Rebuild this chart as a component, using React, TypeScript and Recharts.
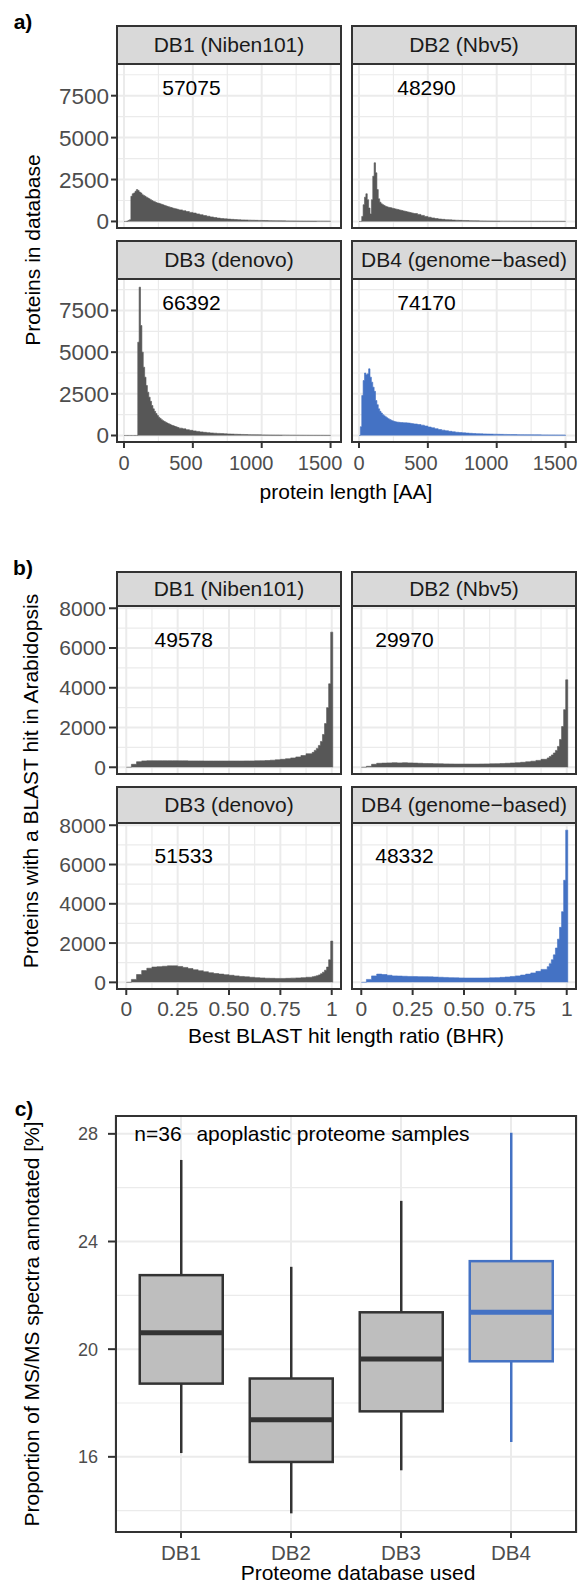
import React from 'react';
import {
  AreaChart,
  Area,
  ComposedChart,
  Bar,
  XAxis,
  YAxis,
  CartesianGrid,
  ReferenceDot,
} from 'recharts';

const FONT = '"Liberation Sans", Arial, Helvetica, sans-serif';
const INK = '#333333';
const GRID = '#ebebeb';
const TICK_TXT = '#4d4d4d';
const GREY_BAR = '#575757';
const BLUE = '#4472c4';

// facet names shared by a) and b)
const facetNames = ['DB1 (Niben101)', 'DB2 (Nbv5)', 'DB3 (denovo)', 'DB4 (genome\u2212based)'];

// ---------- a) protein length ----------
const lenBins = [
  0, 10, 20, 30, 40, 50, 60, 70, 80, 90, 100, 110, 120, 130, 140, 150, 160, 170, 180, 190,
  200, 210, 220, 230, 240, 250, 260, 270, 280, 290, 300, 310, 320, 330, 340, 350, 360, 370, 380, 390,
  400, 425, 450, 475, 500, 525, 550, 575, 600, 625, 650, 675, 700, 725, 750, 775, 800, 825, 850, 875,
  900, 925, 950, 975, 1000, 1025, 1050, 1075, 1100, 1125, 1150, 1175, 1200, 1225, 1250, 1275, 1300,
  1325, 1350, 1375, 1400, 1425, 1450, 1475, 1500,
];
const db1Len = [
  0, 0, 20, 60, 100, 1500, 1650, 1700, 1800, 1900, 1850, 1750, 1700, 1600, 1550, 1500, 1450, 1400, 1350, 1300,
  1250, 1200, 1170, 1130, 1100, 1080, 1050, 1020, 990, 960, 930, 900, 880, 850, 830, 800, 780, 760, 740, 720,
  690, 640, 590, 540, 500, 450, 400, 350, 310, 270, 230, 200, 175, 155, 140, 125, 112, 102, 93, 86,
  79, 73, 67, 62, 57, 52, 48, 44, 41, 38, 35, 33, 31, 29, 27, 25, 23, 22, 21, 20, 19, 18, 17, 16,
];
const db2Len = [
  0, 0, 300, 1000, 1450, 1650, 1300, 800, 450, 1300, 2700, 3500, 2900, 1900, 1350, 1150, 1050, 1000, 950, 900,
  870, 850, 830, 810, 790, 770, 750, 730, 710, 690, 670, 650, 630, 610, 590, 570, 550, 530, 510, 490,
  470, 420, 360, 300, 250, 210, 175, 145, 125, 108, 95, 83, 73, 65, 58, 52, 46, 41, 37, 33,
  30, 27, 25, 23, 21, 19, 18, 17, 16, 15, 14, 13, 12, 12, 11, 11, 10, 10, 9, 9, 8, 8, 8, 7,
];
const db3Len = [
  0, 0, 0, 0, 0, 0, 0, 0, 0, 0, 5600, 8900, 6600, 5000, 4100, 3500, 3000, 2600, 2300, 2050,
  1800, 1600, 1450, 1320, 1200, 1100, 1020, 950, 890, 840, 790, 750, 710, 670, 630, 600, 570, 540, 510, 480,
  440, 400, 350, 310, 275, 245, 215, 190, 170, 152, 138, 125, 113, 102, 92, 84, 76, 69, 63, 57,
  52, 47, 43, 39, 36, 33, 30, 28, 26, 24, 22, 20, 18, 17, 16, 15, 14, 13, 12, 11, 10, 10, 9, 9,
];
const db4Len = [
  0, 530, 2400, 3300, 3750, 3650, 3700, 4000, 3500, 3200, 2900, 2650, 2100, 1850, 1600, 1450, 1350, 1250, 1180, 1120,
  1060, 1010, 960, 920, 880, 850, 830, 810, 800, 790, 780, 775, 770, 765, 760, 755, 745, 735, 720, 705,
  690, 660, 620, 570, 510, 460, 410, 360, 320, 285, 250, 220, 195, 175, 160, 145, 132, 120, 110, 102,
  95, 88, 83, 78, 73, 69, 65, 61, 58, 55, 52, 49, 47, 45, 43, 41, 39, 37, 36, 34, 33, 32, 31, 30,
];
const lenTotals = ['57075', '48290', '66392', '74170'];
const lenTicks = [0, 500, 1000, 1500];
const lenMinor = [250, 750, 1250];
const lenCountTicks = [0, 2500, 5000, 7500];
const lenCountMinor = [1250, 3750, 6250, 8750];
const lenLabelX = [490, 490, 490, 490];
const lenLabelY = 8000;

// ---------- b) best BLAST hit length ratio ----------
const bhrBins = [
  0, 0.025, 0.05, 0.075, 0.1, 0.125, 0.15, 0.175, 0.2, 0.225, 0.25, 0.275, 0.3, 0.325, 0.35, 0.375,
  0.4, 0.425, 0.45, 0.475, 0.5, 0.525, 0.55, 0.575, 0.6, 0.625, 0.65, 0.675, 0.7, 0.725, 0.75, 0.775,
  0.8, 0.825, 0.85, 0.875, 0.905, 0.915, 0.925, 0.935, 0.945, 0.955, 0.965, 0.975, 0.985, 0.995, 1.005,
];
const db1Bhr = [
  0, 150, 280, 320, 330, 330, 330, 330, 330, 330, 325, 325, 320, 320, 320, 315, 315, 315, 315, 315,
  315, 315, 315, 320, 320, 325, 330, 340, 355, 375, 400, 430, 470, 520, 590, 680,
  750, 850, 950, 1100, 1300, 1650, 2200, 3000, 4200, 6800,
];
const db2Bhr = [
  0, 50, 150, 200, 210, 220, 230, 220, 230, 220, 210, 200, 190, 185, 180, 175, 170, 165, 160, 160,
  160, 160, 160, 165, 170, 175, 180, 190, 200, 215, 230, 250, 275, 305, 345, 400,
  470, 540, 620, 720, 850, 1050, 1400, 2050, 2900, 4400,
];
const db3Bhr = [
  0, 150, 400, 600, 720, 780, 800, 820, 840, 840, 810, 760, 700, 640, 590, 540, 490, 450, 420, 390,
  360, 330, 300, 280, 260, 240, 225, 210, 205, 200, 200, 205, 215, 225, 240, 260,
  290, 310, 340, 380, 440, 520, 620, 780, 1150, 2100,
];
const db4Bhr = [
  0, 150, 330, 420, 400, 360, 330, 320, 310, 300, 295, 290, 285, 280, 270, 260, 250, 240, 230, 225,
  220, 220, 220, 220, 225, 230, 240, 255, 275, 300, 330, 370, 420, 480, 560, 660,
  800, 950, 1150, 1400, 1750, 2200, 2800, 3600, 5200, 7750,
];
const bhrTotals = ['49578', '29970', '51533', '48332'];
const bhrTicks = [0, 0.25, 0.5, 0.75, 1];
const bhrTickLabels = ['0', '0.25', '0.50', '0.75', '1'];
const bhrMinor = [0.125, 0.375, 0.625, 0.875];
const bhrCountTicks = [0, 2000, 4000, 6000, 8000];
const bhrCountMinor = [1000, 3000, 5000, 7000];
const bhrLabelX = [0.28, 0.21, 0.28, 0.21];
const bhrLabelY = 6450;

// ---------- c) MS/MS spectra annotated ----------
const boxDbs = ['DB1', 'DB2', 'DB3', 'DB4'];
const boxLow = [16.14, 13.9, 15.5, 16.55];
const boxQ1 = [18.72, 15.81, 17.69, 19.55];
const boxMed = [20.61, 17.38, 19.63, 21.37];
const boxQ3 = [22.75, 18.91, 21.37, 23.27];
const boxHigh = [27.03, 23.06, 25.51, 28.04];
const spectraTicks = [16, 20, 24, 28];
const spectraMinor = [14, 18, 22, 26];
const highlightDb = 'DB4';

// ---------- layout ----------
const COLS = [116, 351];
const PANEL_W = 226;
const A_ROWS = [
  { strip: 25, top: 63, h: 166 },
  { strip: 240, top: 278, h: 165 },
];
const B_ROWS = [
  { strip: 571, top: 605, h: 170 },
  { strip: 786, top: 822, h: 168 },
];

const toSeries = (bins: number[], counts: number[]) =>
  bins.map((x, i) => ({ x, y: counts[i] ?? 0 }));

// grid line positions through the axis scale
const gridAt = (vals: number[], dir: 'x' | 'y') => (props: any) => {
  const axis = dir === 'x' ? props.xAxis : props.yAxis;
  const s = axis && axis.scale;
  const out: number[] = [];
  vals.forEach((v) => {
    const px = typeof s === 'function' ? s(v) : s && s.map ? s.map(v) : undefined;
    if (typeof px === 'number' && Number.isFinite(px)) out.push(px);
  });
  return out;
};

// the length-axis labels in the original sit a little left of their ticks
const LenTick = (props: any) => {
  const { x, y, payload } = props;
  const s = String(payload.value);
  return (
    <text
      x={x - (s.length - 1) * 3.5}
      y={y}
      dy="0.71em"
      textAnchor="middle"
      fill={TICK_TXT}
      fontSize={20}
      fontFamily={FONT}
    >
      {s}
    </text>
  );
};

const Txt = ({ x, y, children, size = 21, rotate = false, color = '#000', weight = 400 }: any) => (
  <div
    style={{
      position: 'absolute',
      left: x,
      top: y,
      transform: `translate(-50%, -50%)${rotate ? ' rotate(-90deg)' : ''}`,
      fontSize: size,
      color,
      fontWeight: weight,
      whiteSpace: 'nowrap',
      lineHeight: 1,
    }}
  >
    {children}
  </div>
);

type FacetProps = {
  data: { x: number; y: number }[];
  left: number;
  row: { strip: number; top: number; h: number };
  label: string;
  total: string;
  annX: number;
  annY: number;
  color: string;
  showX: boolean;
  showY: boolean;
  xDomain: [number, number];
  yDomain: [number, number];
  xTicks: number[];
  xMinor: number[];
  yTicks: number[];
  yMinor: number[];
  xFmt?: (v: number) => string;
  xTick?: any;
  xFont: number;
  yFont: number;
  xTickMargin: number;
  yTickSize: number;
  yTickMargin: number;
};

function Facet(p: FacetProps) {
  const yW = p.showY ? 100 : 0;
  const xH = p.showX ? 40 : 0;
  return (
    <>
      <div
        style={{
          position: 'absolute',
          left: p.left,
          top: p.row.strip,
          width: PANEL_W,
          height: p.row.top - p.row.strip,
          boxSizing: 'border-box',
          background: '#d9d9d9',
          border: `2.5px solid ${INK}`,
          borderBottom: 'none',
          display: 'flex',
          alignItems: 'center',
          justifyContent: 'center',
          fontSize: 21,
          color: '#1a1a1a',
          whiteSpace: 'nowrap',
        }}
      >
        {p.label}
      </div>
      <div style={{ position: 'absolute', left: p.left - yW, top: p.row.top }}>
        <AreaChart
          width={PANEL_W + yW}
          height={p.row.h + xH}
          data={p.data}
          margin={{ top: 0, right: 0, bottom: 0, left: 0 }}
        >
          <CartesianGrid
            stroke={GRID}
            strokeWidth={1.2}
            verticalCoordinatesGenerator={gridAt(p.xMinor, 'x')}
            horizontalCoordinatesGenerator={gridAt(p.yMinor, 'y')}
          />
          <CartesianGrid
            stroke={GRID}
            strokeWidth={2}
            verticalCoordinatesGenerator={gridAt(p.xTicks, 'x')}
            horizontalCoordinatesGenerator={gridAt(p.yTicks, 'y')}
          />
          <XAxis
            type="number"
            dataKey="x"
            domain={p.xDomain}
            allowDataOverflow
            ticks={p.xTicks}
            interval={0}
            hide={!p.showX}
            height={xH}
            tickFormatter={p.xFmt}
            axisLine={false}
            tickSize={5}
            tickMargin={p.xTickMargin}
            tickLine={{ stroke: INK, strokeWidth: 2 }}
            tick={p.xTick ?? { fill: TICK_TXT, fontSize: p.xFont, fontFamily: FONT }}
          />
          <YAxis
            type="number"
            domain={p.yDomain}
            allowDataOverflow
            ticks={p.yTicks}
            interval={0}
            hide={!p.showY}
            width={yW || 60}
            axisLine={false}
            tickSize={p.yTickSize}
            tickMargin={p.yTickMargin}
            tickLine={{ stroke: INK, strokeWidth: 2 }}
            tick={{ fill: TICK_TXT, fontSize: p.yFont, fontFamily: FONT }}
          />
          <Area
            type="stepAfter"
            dataKey="y"
            baseValue={0}
            fill={p.color}
            fillOpacity={1}
            stroke={p.color}
            strokeWidth={0.6}
            dot={false}
            activeDot={false}
            isAnimationActive={false}
          />
          <ReferenceDot
            x={p.annX}
            y={p.annY}
            r={0}
            fill="none"
            stroke="none"
            label={{ value: p.total, position: 'center', fill: '#000', fontSize: 21, fontFamily: FONT }}
          />
        </AreaChart>
      </div>
      <div
        style={{
          position: 'absolute',
          left: p.left,
          top: p.row.top,
          width: PANEL_W,
          height: p.row.h,
          boxSizing: 'border-box',
          border: `2.5px solid ${INK}`,
          pointerEvents: 'none',
        }}
      />
    </>
  );
}

const BoxShape = (props: any) => {
  const { x, y, width, height, payload } = props;
  if (!payload) return null;
  const top = Math.min(y, y + height);
  const h = Math.abs(height);
  const k = h / (payload.q3 - payload.q1);
  const cx = x + width / 2;
  const yMed = top + (payload.q3 - payload.med) * k;
  const yHi = top - (payload.hi - payload.q3) * k;
  const yLo = top + h + (payload.q1 - payload.lo) * k;
  const c = payload.db === highlightDb ? BLUE : INK;
  return (
    <g>
      <line x1={cx} x2={cx} y1={yHi} y2={top} stroke={c} strokeWidth={2.5} />
      <line x1={cx} x2={cx} y1={top + h} y2={yLo} stroke={c} strokeWidth={2.5} />
      <rect x={x} y={top} width={width} height={h} fill="#bebebe" stroke={c} strokeWidth={2.5} />
      <line x1={x} x2={x + width} y1={yMed} y2={yMed} stroke={c} strokeWidth={5} />
    </g>
  );
};

export default function App() {
  const lenCounts = [db1Len, db2Len, db3Len, db4Len];
  const bhrCounts = [db1Bhr, db2Bhr, db3Bhr, db4Bhr];
  const boxData = boxDbs.map((db, i) => ({
    db,
    box: [boxQ1[i], boxQ3[i]],
    lo: boxLow[i],
    q1: boxQ1[i],
    med: boxMed[i],
    q3: boxQ3[i],
    hi: boxHigh[i],
  }));
  const bhrFmt = (v: number) => bhrTickLabels[bhrTicks.indexOf(v)] ?? String(v);

  return (
    <div
      style={{
        position: 'absolute',
        left: 0,
        top: 0,
        width: 579,
        height: 1584,
        background: '#fff',
        fontFamily: FONT,
        overflow: 'hidden',
      }}
    >
      <style>{`.recharts-surface{overflow:visible}`}</style>

      {/* a) */}
      <Txt x={23} y={21} size={21} weight={700}>a)</Txt>
      {facetNames.map((name, i) => (
        <Facet
          key={'a' + i}
          data={toSeries(lenBins, lenCounts[i])}
          left={COLS[i % 2]}
          row={A_ROWS[Math.floor(i / 2)]}
          label={name}
          total={lenTotals[i]}
          annX={lenLabelX[i]}
          annY={lenLabelY}
          color={i === 3 ? BLUE : GREY_BAR}
          showX={i >= 2}
          showY={i % 2 === 0}
          xDomain={[-58, 1583]}
          yDomain={[-450, 9450]}
          xTicks={lenTicks}
          xMinor={lenMinor}
          yTicks={lenCountTicks}
          yMinor={lenCountMinor}
          xTick={<LenTick />}
          xFont={20}
          yFont={22.5}
          xTickMargin={8}
          yTickSize={5}
          yTickMargin={2}
        />
      ))}
      <Txt x={32} y={250} rotate>Proteins in database</Txt>
      <Txt x={346} y={491}>protein length [AA]</Txt>

      {/* b) */}
      <Txt x={23} y={567} size={21} weight={700}>b)</Txt>
      {facetNames.map((name, i) => (
        <Facet
          key={'b' + i}
          data={toSeries(bhrBins, bhrCounts[i])}
          left={COLS[i % 2]}
          row={B_ROWS[Math.floor(i / 2)]}
          label={name}
          total={bhrTotals[i]}
          annX={bhrLabelX[i]}
          annY={bhrLabelY}
          color={i === 3 ? BLUE : GREY_BAR}
          showX={i >= 2}
          showY={i % 2 === 0}
          xDomain={[-0.05, 1.05]}
          yDomain={[-389, 8165]}
          xTicks={bhrTicks}
          xMinor={bhrMinor}
          yTicks={bhrCountTicks}
          yMinor={bhrCountMinor}
          xFmt={bhrFmt}
          xFont={21}
          yFont={21}
          xTickMargin={6}
          yTickSize={7}
          yTickMargin={3}
        />
      ))}
      <Txt x={30} y={781} rotate>Proteins with a BLAST hit in Arabidopsis</Txt>
      <Txt x={346} y={1035}>Best BLAST hit length ratio (BHR)</Txt>

      {/* c) */}
      <Txt x={24} y={1108} size={21} weight={700}>c)</Txt>
      <div style={{ position: 'absolute', left: 0, top: 1115 }}>
        <ComposedChart
          width={577}
          height={418 + 45}
          data={boxData}
          margin={{ top: 0, right: 0, bottom: 0, left: 0 }}
          barCategoryGap="12.5%"
        >
          <CartesianGrid
            stroke={GRID}
            strokeWidth={1.2}
            vertical={false}
            horizontalCoordinatesGenerator={gridAt(spectraMinor, 'y')}
          />
          <CartesianGrid
            stroke={GRID}
            strokeWidth={2}
            horizontalCoordinatesGenerator={gridAt(spectraTicks, 'y')}
          />
          <XAxis
            dataKey="db"
            type="category"
            padding={{ left: 11, right: 11 }}
            interval={0}
            height={45}
            axisLine={false}
            tickSize={5}
            tickMargin={7}
            tickLine={{ stroke: INK, strokeWidth: 2 }}
            tick={{ fill: TICK_TXT, fontSize: 20.5, fontFamily: FONT }}
          />
          <YAxis
            type="number"
            domain={[13.17, 28.7]}
            allowDataOverflow
            ticks={spectraTicks}
            interval={0}
            width={115}
            axisLine={false}
            tickSize={7}
            tickMargin={10}
            tickLine={{ stroke: INK, strokeWidth: 2 }}
            tick={{ fill: TICK_TXT, fontSize: 18, fontFamily: FONT }}
          />
          <Bar dataKey="box" shape={<BoxShape />} isAnimationActive={false} />
        </ComposedChart>
      </div>
      <div
        style={{
          position: 'absolute',
          left: 115,
          top: 1115,
          width: 462,
          height: 418,
          boxSizing: 'border-box',
          border: `2.5px solid ${INK}`,
          pointerEvents: 'none',
        }}
      />
      <Txt x={158} y={1133}>n=36</Txt>
      <Txt x={333} y={1133}>apoplastic proteome samples</Txt>
      <Txt x={31} y={1324} rotate>Proportion of MS/MS spectra annotated [%]</Txt>
      <Txt x={358} y={1572}>Proteome database used</Txt>
    </div>
  );
}
